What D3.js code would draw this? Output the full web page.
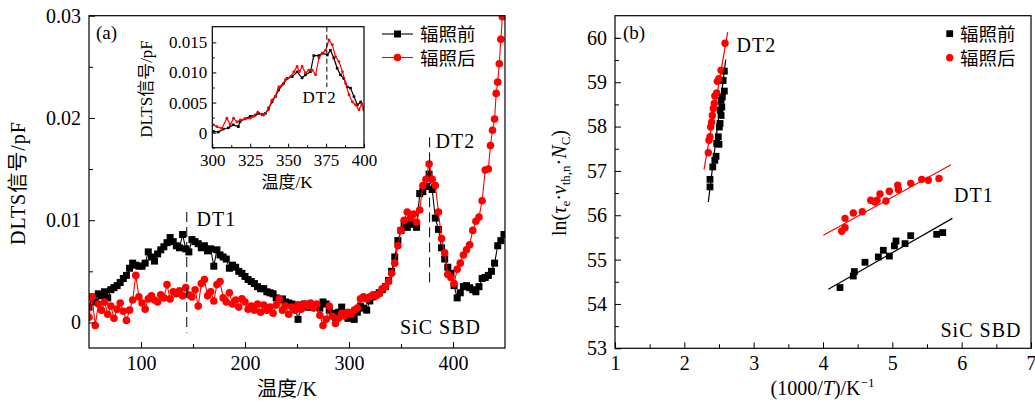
<!DOCTYPE html>
<html><head><meta charset="utf-8">
<script src="https://cdn.jsdelivr.net/npm/d3@7"></script>
<style>
body{margin:0;background:#fff}
svg{display:block}
text{font-family:"Liberation Serif","Noto Sans CJK SC",serif;fill:#000}
.lbl{letter-spacing:1px}
</style>
</head><body><svg id="c" width="1035" height="403"></svg>
<script>
// ---------- DATA ----------
// Panel (a): DLTS signal (x1e-3 pF) vs temperature (K)
const tempsBefore = [
 50,53,56,59,62,65,68,71,74,77,
 80,83,86,89,92,95,98,101,104,107,
 110,113,116,119,122,125,128,131,134,137,
 140,143,146,149,152,155,158,161,164,167,
 170,173,176,179,182,185,188,191,194,197,
 200,203,206,209,212,215,218,221,224,227,
 230,233,236,239,242,245,248,251,254,257,
 260,263,266,269,272,275,278,281,284,287,
 290,293,296,299,302,305,308,311,314,317,
 320,323,326,329,332,335,338,341,344,347,
 350,353,356,359,362,365,368,371,374,377,
 380,383,386,389,392,395,398,401,404,407,
 410,413,416,419,422,425,428,431,434,437,
 440,443,446,449];
const signalBefore = [
 1.5,2.5,2.0,2.8,2.6,3.0,2.4,3.2,3.4,3.6,
 3.9,4.3,4.6,5.3,5.8,5.6,5.5,5.5,5.8,6.9,
 6.4,6.0,6.7,7.1,7.4,7.8,8.3,7.9,7.5,7.3,
 8.6,7.2,6.9,8.1,7.9,7.7,7.3,7.5,7.0,7.2,
 5.5,7.1,6.6,6.4,6.2,5.3,5.6,5.4,5.0,4.8,
 4.5,4.2,4.0,3.8,3.5,3.3,3.3,3.0,2.9,2.8,
 2.4,2.2,2.3,2.0,1.9,1.8,1.7,0.3,1.7,1.8,
 1.5,1.5,1.7,1.6,1.4,2.0,1.8,1.2,0.9,0.5,
 1.0,1.5,0.8,0.4,0.6,0.3,1.0,1.6,1.4,1.2,
 2.1,2.5,2.7,2.9,3.2,3.5,4.1,5.0,6.4,8.0,
 9.0,9.6,9.3,9.8,9.6,9.3,12.6,12.8,13.3,14.5,
 13.0,10.2,9.1,7.3,6.2,5.4,4.8,3.6,2.4,2.9,
 3.5,3.6,3.4,3.2,3.0,3.5,4.3,4.4,4.6,5.0,
 5.8,7.5,8.0,8.6];
const tempsAfter = [
 50,53,56,59,62,65,68,71,74,77,
 80,83,86,89,92,95,98,101,104,107,
 110,113,116,119,122,125,128,131,134,137,
 140,143,146,149,152,155,158,161,164,167,
 170,173,176,179,182,185,188,191,194,197,
 200,203,206,209,212,215,218,221,224,227,
 230,233,236,239,242,245,248,251,254,257,
 260,263,266,269,272,275,278,281,284,287,
 290,293,296,299,302,305,308,311,314,317,
 320,323,326,329,332,335,338,341,344,347,
 350,353,356,359,362,365,368,371,374,377,
 380,383,386,389,392,395,398,401,404,407,
 410,413,416,419,422,425,428,431,434,436,
 438,440,441.5,443,444.5,446,447.5];
const signalAfter = [
 0.5,2.5,-0.3,1.8,1.2,2.0,0.8,1.6,0.4,1.3,
 1.9,1.1,0.2,1.2,2.2,4.6,2.5,1.9,1.3,2.3,
 2.6,2.2,2.0,2.7,2.4,3.7,2.3,3.0,2.8,3.1,
 2.6,3.4,2.7,2.5,3.2,1.6,3.8,4.2,2.6,3.0,
 2.1,3.7,4.0,2.4,2.0,2.9,1.8,2.2,1.5,2.3,
 2.0,1.3,1.6,1.2,1.8,1.0,1.7,1.2,1.5,0.9,
 1.7,2.3,1.2,1.6,0.8,1.5,1.2,1.7,1.3,1.8,
 1.6,1.9,1.4,1.8,0.7,-0.3,0.3,1.6,0.6,-0.1,
 0.4,0.9,0.6,1.0,0.8,1.2,1.4,2.3,2.5,2.3,
 2.5,2.7,2.6,2.8,3.3,3.5,4.0,4.8,5.8,7.5,
 9.0,10.0,10.8,10.2,10.6,9.8,11.0,13.4,14.0,15.5,
 14.0,13.4,10.8,8.2,6.8,4.7,4.4,3.8,5.2,5.8,
 6.6,7.1,7.6,9.0,9.9,10.3,11.9,14.9,15.0,17.3,
 18.8,19.9,22.4,23.5,25.3,27.7,29.9];

// Inset (300-400 K)
const insetTempBefore = [300.9,304,307.3,310.6,313.8,317.2,318.2,321.5,325,328.3,330.5,333,335,337.2,339.4,341.6,343.8,347.1,349.3,352.6,355.9,359.2,361.4,364.7,366.9,370.2,372.9,375.8,377.9,380.1,382.3,384.5,386.7,388.9,391.1,393.4,395.6,397.8,400];
const insetSignalBefore = [0.2,0.1,0.6,0.8,1.3,1.0,1.8,2.3,2.7,2.9,3.2,3.0,3.2,4.1,5.1,6.0,7.1,8.2,9.0,9.3,10.1,9.1,9.6,10.1,12.8,12.8,13.2,12.9,13.7,12.4,10.7,9.6,9.0,7.6,7.4,6.0,4.6,5.1,3.8];
const insetTempAfter = [300.7,303,306.3,309.6,311.8,314,316.2,318.5,321.8,325,327.1,330,333.7,337,339.3,341.5,343.8,346,348.2,351.5,353.7,355.9,357.4,359.2,361.4,363.6,365.9,368.1,370.3,372.5,374.7,376.9,379.1,381.3,383.5,385.8,387.9,390.1,392.4,394.5,396.7,398.5,400];
const insetSignalAfter = [1.3,1.0,0.7,2.4,1.3,2.4,1.8,2.1,2.3,2.4,2.7,3.4,2.9,3.8,5.4,6.0,7.6,7.9,8.8,9.3,10.1,11.0,10.1,11.0,9.9,10.4,10.4,9.6,12.4,13.2,13.7,15.4,14.6,12.6,11.8,10.1,8.2,6.3,5.1,4.6,3.8,4.8,3.8];

// Panel (b): Arrhenius data
const dt2BeforeX = [2.37,2.37,2.41,2.44,2.457,2.467,2.5,2.49,2.505,2.515,2.53,2.515,2.54,2.53,2.548,2.577,2.56,2.577];
const dt2BeforeY = [56.64,56.81,57.09,57.24,57.33,57.62,57.6,57.77,57.99,58.07,58.25,58.37,58.44,58.59,58.67,58.8,59.04,59.25];
const dt2AfterX = [2.346,2.356,2.37,2.38,2.394,2.404,2.418,2.432,2.44,2.467,2.475,2.5,2.53,2.587];
const dt2AfterY = [57.41,57.69,57.77,57.99,58.10,58.25,58.41,58.52,58.69,58.76,59.02,59.08,59.27,59.88];
const dt1BeforeX = [4.245,4.437,4.452,4.606,4.798,4.87,4.957,5.03,5.053,5.183,5.265,5.64,5.727];
const dt1BeforeY = [54.37,54.63,54.73,54.94,55.06,55.21,55.08,55.31,55.42,55.36,55.54,55.57,55.61];
const dt1AfterX = [4.27,4.318,4.318,4.437,4.567,4.688,4.75,4.78,4.822,4.908,4.957,5.078,5.086,5.265,5.424,5.519,5.673];
const dt1AfterY = [55.64,55.72,55.93,56.05,56.08,56.34,56.30,56.34,56.48,56.32,56.54,56.68,56.58,56.72,56.81,56.79,56.83];
// fitted lines [x0, y0, x1, y1]
const fitDT2Before = [2.346,56.30,2.597,59.51];
const fitDT2After = [2.284,57.03,2.625,60.13];
const fitDT1Before = [4.077,54.33,5.866,55.93];
const fitDT1After = [4.005,55.55,5.846,57.14];

// ticks / labels
const seriesNames = ["辐照前","辐照后"];
const mainXTicks = [100,200,300,400];
const mainXMinor = [150,250,350];
const mainYTicks = [0,0.01,0.02,0.03];
const mainYLabels = ["0","0.01","0.02","0.03"];
const mainYMinor = [0.005,0.015,0.025];
const insetXTicks = [300,325,350,375,400];
const insetXMinor = [312.5,337.5,362.5,387.5];
const insetYTicks = [0,0.005,0.010,0.015];
const insetYLabels = ["0","0.005","0.010","0.015"];
const insetYMinor = [-0.0025,0.0025,0.0075,0.0125];
const bXTicks = [1,2,3,4,5,6,7];
const bXMinor = [1.5,2.5,3.5,4.5,5.5,6.5];
const bYTicks = [53,54,55,56,57,58,59,60];
const bYMinor = [53.5,54.5,55.5,56.5,57.5,58.5,59.5,60];

// ---------- DRAW ----------
const svg = d3.select("#c");
const BLACK = "#000", RED = "#ff0000";

function frame(g, x, y){
  const [x0,x1] = x.range(), [y0,y1] = y.range();
  g.append("rect").attr("x",x0).attr("y",y1).attr("width",x1-x0).attr("height",y0-y1)
   .attr("fill","none").attr("stroke","#000").attr("stroke-width",1.2);
}
function axes(g, x, y, o){
  const [x0,x1] = x.range(), [y0,y1] = y.range();
  const ax = g.append("g").attr("transform",`translate(0,${y0})`)
    .call(d3.axisBottom(x).tickValues(o.xt).tickSizeInner(-o.maj).tickSizeOuter(0).tickPadding(o.xpad).tickFormat(o.xf||(d=>d)));
  const axm = g.append("g").attr("transform",`translate(0,${y0})`)
    .call(d3.axisBottom(x).tickValues(o.xm).tickSizeInner(-o.min).tickSizeOuter(0).tickFormat(""));
  const ay = g.append("g").attr("transform",`translate(${x0},0)`)
    .call(d3.axisLeft(y).tickValues(o.yt).tickSizeInner(-o.maj).tickSizeOuter(0).tickPadding(o.ypad).tickFormat((d,i)=>o.yl?o.yl[i]:d));
  const aym = g.append("g").attr("transform",`translate(${x0},0)`)
    .call(d3.axisLeft(y).tickValues(o.ym).tickSizeInner(-o.min).tickSizeOuter(0).tickFormat(""));
  [ax,axm,ay,aym].forEach(a=>{
    a.select(".domain").remove();
    a.selectAll("line").attr("stroke","#000").attr("stroke-width",1);
    a.selectAll("text").attr("font-size",o.fs).attr("font-family","Liberation Serif").attr("fill","#000");
  });
  frame(g,x,y);
}

// ----- Panel (a) -----
const xA = d3.scaleLinear().domain([50,450]).range([89,505]);
const yA = d3.scaleLinear().domain([-0.0025,0.03]).range([348,15.7]);
const gA = svg.append("g");
svg.append("defs").append("clipPath").attr("id","clipA").append("rect")
  .attr("x",89).attr("y",15.7).attr("width",416).attr("height",332.3);

const dataBefore = tempsBefore.map((t,i)=>[t,signalBefore[i]/1000]);
const dataAfter = tempsAfter.map((t,i)=>[t,signalAfter[i]/1000]);
const lineA = d3.line().x(d=>xA(d[0])).y(d=>yA(d[1]));
const plotA = gA.append("g").attr("clip-path","url(#clipA)");
plotA.append("path").attr("d",lineA(dataBefore)).attr("fill","none").attr("stroke",BLACK).attr("stroke-width",1.1);
plotA.selectAll(".sqA").data(dataBefore).join("rect")
  .attr("x",d=>xA(d[0])-3.5).attr("y",d=>yA(d[1])-3.5).attr("width",7).attr("height",7).attr("fill",BLACK);
plotA.append("path").attr("d",lineA(dataAfter)).attr("fill","none").attr("stroke",RED).attr("stroke-width",1.1);
plotA.selectAll(".ciA").data(dataAfter).join("circle")
  .attr("cx",d=>xA(d[0])).attr("cy",d=>yA(d[1])).attr("r",3.8).attr("fill",RED);

axes(gA,xA,yA,{xt:mainXTicks,xm:mainXMinor,yt:mainYTicks,yl:mainYLabels,ym:mainYMinor,maj:6,min:4,xpad:8,ypad:8,fs:20});

// DT marker lines
gA.append("line").attr("x1",xA(144)).attr("x2",xA(144)).attr("y1",yA(0.0108)).attr("y2",yA(-0.001))
  .attr("stroke","#000").attr("stroke-width",1).attr("stroke-dasharray","10,5");
gA.append("line").attr("x1",xA(377.5)).attr("x2",xA(377.5)).attr("y1",yA(0.0181)).attr("y2",yA(0.0039))
  .attr("stroke","#000").attr("stroke-width",1).attr("stroke-dasharray","10,5");
gA.append("text").attr("class","lbl").attr("x",196.5).attr("y",226).attr("font-size",20).text("DT1");
gA.append("text").attr("class","lbl").attr("x",435.5).attr("y",148).attr("font-size",20).text("DT2");
gA.append("text").attr("class","lbl").attr("x",400).attr("y",334).attr("font-size",20).text("SiC SBD");
gA.append("text").attr("x",96).attr("y",39).attr("font-size",19).text("(a)");

// Legend (a)
const legA = gA.append("g");
legA.append("line").attr("x1",382).attr("x2",413).attr("y1",34).attr("y2",34).attr("stroke",BLACK).attr("stroke-width",1.1);
legA.append("rect").attr("x",397.5-3.5).attr("y",34-3.5).attr("width",7).attr("height",7).attr("fill",BLACK);
legA.append("text").attr("x",420).attr("y",41).attr("font-size",18.5).text(seriesNames[0]);
legA.append("line").attr("x1",382).attr("x2",413).attr("y1",57.5).attr("y2",57.5).attr("stroke",RED).attr("stroke-width",1.1);
legA.append("circle").attr("cx",397.5).attr("cy",57.5).attr("r",3.8).attr("fill",RED);
legA.append("text").attr("x",420).attr("y",64.5).attr("font-size",18.5).text(seriesNames[1]);

// axis titles (a)
gA.append("text").attr("class","lbl").attr("transform","translate(25,183) rotate(-90)").attr("text-anchor","middle").attr("font-size",20).text("DLTS信号/pF");
gA.append("text").attr("x",287).attr("y",396).attr("text-anchor","middle").attr("font-size",20).text("温度/K");

// ----- Inset -----
const xI = d3.scaleLinear().domain([300,400]).range([212.3,364]);
const yI = d3.scaleLinear().domain([-0.0025,0.0176]).range([147.7,26.7]);
const gI = svg.append("g");
gI.append("rect").attr("x",212.3).attr("y",26.7).attr("width",151.7).attr("height",121).attr("fill","#fff");
svg.select("defs").append("clipPath").attr("id","clipI").append("rect")
  .attr("x",212.3).attr("y",26.7).attr("width",151.7).attr("height",121);
const insBefore = insetTempBefore.map((t,i)=>[t,insetSignalBefore[i]/1000]);
const insAfter = insetTempAfter.map((t,i)=>[t,insetSignalAfter[i]/1000]);
const lineI = d3.line().x(d=>xI(d[0])).y(d=>yI(d[1]));
const plotI = gI.append("g").attr("clip-path","url(#clipI)");
plotI.append("path").attr("d",lineI(insBefore)).attr("fill","none").attr("stroke",BLACK).attr("stroke-width",1.2);
plotI.selectAll(".sqI").data(insBefore).join("rect")
  .attr("x",d=>xI(d[0])-1.3).attr("y",d=>yI(d[1])-1.3).attr("width",2.6).attr("height",2.6).attr("fill",BLACK);
plotI.append("path").attr("d",lineI(insAfter)).attr("fill","none").attr("stroke",RED).attr("stroke-width",1.2);
plotI.selectAll(".ciI").data(insAfter).join("circle")
  .attr("cx",d=>xI(d[0])).attr("cy",d=>yI(d[1])).attr("r",1.4).attr("fill",RED);
axes(gI,xI,yI,{xt:insetXTicks,xm:insetXMinor,yt:insetYTicks,yl:insetYLabels,ym:insetYMinor,maj:4,min:2.5,xpad:6,ypad:5,fs:17});
gI.append("line").attr("x1",xI(375.5)).attr("x2",xI(375.5)).attr("y1",26.7).attr("y2",87)
  .attr("stroke","#000").attr("stroke-width",1).attr("stroke-dasharray","5,3");
gI.append("text").attr("class","lbl").attr("x",302.5).attr("y",103).attr("font-size",17).text("DT2");
gI.append("text").attr("transform","translate(152,89) rotate(-90)").attr("text-anchor","middle").attr("font-size",17).text("DLTS信号/pF");
gI.append("text").attr("x",287).attr("y",188).attr("text-anchor","middle").attr("font-size",17).text("温度/K");

// ----- Panel (b) -----
const xB = d3.scaleLinear().domain([1,7]).range([615,1031]);
const yB = d3.scaleLinear().domain([53,60.5]).range([348.3,15.7]);
const gB = svg.append("g");
svg.select("defs").append("clipPath").attr("id","clipB").append("rect")
  .attr("x",615).attr("y",15.7).attr("width",416).attr("height",332.6);
const plotB = gB.append("g").attr("clip-path","url(#clipB)");
function fit(f,color){
  plotB.append("line").attr("x1",xB(f[0])).attr("y1",yB(f[1])).attr("x2",xB(f[2])).attr("y2",yB(f[3]))
    .attr("stroke",color).attr("stroke-width",1.2);
}
function squares(xs,ys){
  plotB.append("g").selectAll("rect").data(xs.map((x,i)=>[x,ys[i]])).join("rect")
    .attr("x",d=>xB(d[0])-3.4).attr("y",d=>yB(d[1])-3.4).attr("width",6.8).attr("height",6.8).attr("fill",BLACK);
}
function circles(xs,ys){
  plotB.append("g").selectAll("circle").data(xs.map((x,i)=>[x,ys[i]])).join("circle")
    .attr("cx",d=>xB(d[0])).attr("cy",d=>yB(d[1])).attr("r",3.7).attr("fill",RED);
}
squares(dt2BeforeX,dt2BeforeY);
squares(dt1BeforeX,dt1BeforeY);
circles(dt2AfterX,dt2AfterY);
circles(dt1AfterX,dt1AfterY);
fit(fitDT2Before,BLACK); fit(fitDT1Before,BLACK);
fit(fitDT2After,RED); fit(fitDT1After,RED);
axes(gB,xB,yB,{xt:bXTicks,xm:bXMinor,yt:bYTicks,ym:bYMinor,maj:6,min:4,xpad:8,ypad:8,fs:20});

gB.append("text").attr("class","lbl").attr("x",736.5).attr("y",52).attr("font-size",20).text("DT2");
gB.append("text").attr("class","lbl").attr("x",954).attr("y",202).attr("font-size",20).text("DT1");
gB.append("text").attr("class","lbl").attr("x",940.5).attr("y",337).attr("font-size",20).text("SiC SBD");
gB.append("text").attr("x",623).attr("y",39).attr("font-size",19).text("(b)");
// legend (b)
gB.append("rect").attr("x",949.7-3.4).attr("y",33.7-3.4).attr("width",6.8).attr("height",6.8).attr("fill",BLACK);
gB.append("text").attr("x",960).attr("y",40.5).attr("font-size",18.5).text(seriesNames[0]);
gB.append("circle").attr("cx",949.7).attr("cy",57.7).attr("r",3.7).attr("fill",RED);
gB.append("text").attr("x",960).attr("y",64.5).attr("font-size",18.5).text(seriesNames[1]);

// axis titles (b)
const yt = gB.append("text").attr("transform","translate(566,183) rotate(-90)").attr("text-anchor","middle").attr("font-size",20);
yt.append("tspan").text("ln(");
yt.append("tspan").attr("font-style","italic").text("τ");
yt.append("tspan").attr("font-size",13).attr("dy",4).text("e");
yt.append("tspan").attr("dy",-4).text("·");
yt.append("tspan").attr("font-style","italic").text("v");
yt.append("tspan").attr("font-size",13).attr("dy",4).text("th,n");
yt.append("tspan").attr("dy",-4).text("·");
yt.append("tspan").attr("font-style","italic").text("N");
yt.append("tspan").attr("font-size",13).attr("dy",4).text("C");
yt.append("tspan").attr("dy",-4).text(")");

const xt = gB.append("text").attr("x",822.5).attr("y",395).attr("text-anchor","middle").attr("font-size",20);
xt.append("tspan").text("(1000/");
xt.append("tspan").attr("font-style","italic").text("T");
xt.append("tspan").text(")/K");
xt.append("tspan").attr("font-size",13).attr("dy",-8).text("−1");
</script></body></html>
